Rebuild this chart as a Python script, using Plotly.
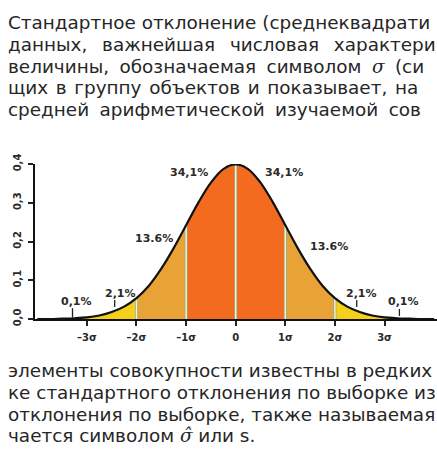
import plotly.graph_objects as go

# ---------------- data ----------------
SIGMA_X = [-4, -3.75, -3.5, -3.25, -3, -2.75, -2.5, -2.25, -2, -1.75, -1.5, -1.25, -1,
           -0.75, -0.5, -0.25, 0, 0.25, 0.5, 0.75, 1, 1.25, 1.5, 1.75, 2, 2.25, 2.5,
           2.75, 3, 3.25, 3.5, 3.75, 4]
DENSITY = [0.000, 0.000, 0.001, 0.002, 0.004, 0.009, 0.018, 0.032, 0.054, 0.086, 0.130,
           0.183, 0.242, 0.301, 0.352, 0.387, 0.399, 0.387, 0.352, 0.301, 0.242, 0.183,
           0.130, 0.086, 0.054, 0.032, 0.018, 0.009, 0.004, 0.002, 0.001, 0.000, 0.000]

BAND_EDGES = [-4, -3, -2, -1, 1, 2, 3, 4]
BAND_COLORS = ["#F6CF1B", "#F6CF1B", "#E8A236", "#F26B1F", "#E8A236", "#F6CF1B", "#F6CF1B"]
DIVIDERS = [-2, -1, 0, 1, 2]

PCT_TEXT = ["34,1%", "34,1%", "13.6%", "13.6%", "2,1%", "2,1%", "0,1%", "0,1%"]
PCT_X = [-0.94, 0.97, -1.65, 1.88, -2.33, 2.53, -3.20, 3.39]
PCT_Y = [0.379, 0.379, 0.209, 0.188, 0.067, 0.067, 0.046, 0.046]

POINTER_X = [-3.29, -2.44, 2.44, 3.30]
POINTER_Y0 = [0.003, 0.031, 0.031, 0.008]
POINTER_Y1 = [0.028, 0.049, 0.049, 0.026]

X_TICKS = [-3, -2, -1, 0, 1, 2, 3]
X_TICK_TEXT = ["–3σ", "–2σ", "–1σ", "0", "1σ", "2σ", "3σ"]
Y_TICKS = [0, 0.1, 0.2, 0.3, 0.4]
Y_TICK_TEXT = ["0,0", "0,1", "0,2", "0,3", "0,4"]

# body text (justified in the source, so the gaps are widened)
NB = "\u00a0"
S4 = "\u2005"
S6 = "\u2006"
SH = "\u200a"
SIG = "<span style='font-family:DejaVu Serif'><i>σ</i></span>"
SIG_HAT = "<span style='font-family:DejaVu Serif'><i>σ̂</i></span>"
TOP_WORDS = [
    ["Стандартное", "отклонение", "(среднеквадрати"],
    ["данных,", "важнейшая", "числовая", "характери"],
    ["величины,", "обозначаемая", "символом", SIG, "(си"],
    ["щих", "в", "группу", "объектов", "и", "показывает,", "на"],
    ["средней", "арифметической", "изучаемой", "сов"],
]
TOP_GAPS = [" ", NB + " " + S6, " " + S4, " " + SH, " " + S4]
BOTTOM_WORDS = [
    ["элементы", "совокупности", "известны", "в", "редких"],
    ["ке", "стандартного", "отклонения", "по", "выборке", "из"],
    ["отклонения", "по", "выборке,", "также", "называемая"],
    ["чается", "символом", SIG_HAT, "или", "s."],
]
BOTTOM_GAPS = [" ", " ", " ", " "]
TOP_BASELINES = [29, 50.7, 72.4, 94, 115.8]
BOTTOM_BASELINES = [377, 398.7, 420.4, 442]

# ---------------- layout geometry ----------------
W, H = 437, 457
ML, MR, MT, MB = 35, 0, 164, 138
PW, PH = W - ML - MR, H - MT - MB
TEXT_SIZE = 18.4
TEXT_LEFT = 7


def paper_x(px):
    return (px - ML) / PW


def paper_y(py):
    return (H - MB - py) / PH


fig = go.Figure()

# filled bands
for i, color in enumerate(BAND_COLORS):
    a, b = BAND_EDGES[i], BAND_EDGES[i + 1]
    xs = [x for x in SIGMA_X if a <= x <= b]
    ys = [DENSITY[SIGMA_X.index(x)] for x in xs]
    fig.add_trace(go.Scatter(x=xs, y=ys, mode="lines", fill="tozeroy", fillcolor=color,
                             line=dict(width=0, shape="spline"), hoverinfo="skip",
                             showlegend=False))

# dividers
for d in DIVIDERS:
    top = DENSITY[SIGMA_X.index(d)]
    fig.add_trace(go.Scatter(x=[d, d], y=[0, top], mode="lines",
                             line=dict(color="#93A88A", width=3.0), hoverinfo="skip",
                             showlegend=False))
    fig.add_trace(go.Scatter(x=[d, d], y=[0, top], mode="lines",
                             line=dict(color="#F6F2CC", width=1.5), hoverinfo="skip",
                             showlegend=False))

# curve
fig.add_trace(go.Scatter(x=SIGMA_X, y=DENSITY, mode="lines",
                         line=dict(color="#111111", width=2.2, shape="spline"),
                         hoverinfo="skip", showlegend=False))

# label pointers
for x, y0, y1 in zip(POINTER_X, POINTER_Y0, POINTER_Y1):
    fig.add_trace(go.Scatter(x=[x, x], y=[y0, y1], mode="lines",
                             line=dict(color="#222222", width=1.3), hoverinfo="skip",
                             showlegend=False))

annotations = []
for t, x, y in zip(PCT_TEXT, PCT_X, PCT_Y):
    annotations.append(dict(x=x, y=y, xref="x", yref="y", text=t, showarrow=False,
                            font=dict(family="DejaVu Sans", size=11, color="#2a2a2a",
                                      weight="bold")))

lines = [g.join(w) for w, g in zip(TOP_WORDS, TOP_GAPS)] + \
        [g.join(w) for w, g in zip(BOTTOM_WORDS, BOTTOM_GAPS)]
for txt, base in zip(lines, TOP_BASELINES + BOTTOM_BASELINES):
    annotations.append(dict(x=paper_x(TEXT_LEFT), y=paper_y(base - 0.346 * TEXT_SIZE),
                            xref="paper", yref="paper", xanchor="left", yanchor="middle",
                            text=txt, showarrow=False, align="left", borderpad=0,
                            font=dict(family="DejaVu Sans", size=TEXT_SIZE, color="#262626")))

fig.update_layout(
    width=W, height=H,
    margin=dict(l=ML, r=MR, t=MT, b=MB),
    paper_bgcolor="white", plot_bgcolor="white",
    annotations=annotations,
    xaxis=dict(range=[-4.046, 4.058], showgrid=False, zeroline=False,
               showline=True, linecolor="#111111", linewidth=2,
               tickvals=X_TICKS, ticktext=X_TICK_TEXT, ticks="outside", ticklen=5,
               tickwidth=1.5, tickcolor="#222222", ticklabelstandoff=3,
               tickfont=dict(family="DejaVu Sans", size=10, color="#2a2a2a", weight="bold")),
    yaxis=dict(range=[0, 0.4], showgrid=False, zeroline=False,
               showline=True, linecolor="#111111", linewidth=2,
               tickvals=Y_TICKS, ticktext=Y_TICK_TEXT, ticks="outside", ticklen=5,
               tickwidth=1.5, tickcolor="#222222", tickangle=-90, ticklabelstandoff=3,
               tickfont=dict(family="DejaVu Sans", size=10, color="#2a2a2a", weight="bold")),
)

fig.write_html("out.html", config={"displayModeBar": False},
               post_script="document.body.style.margin='0';document.body.style.overflow='hidden';")
